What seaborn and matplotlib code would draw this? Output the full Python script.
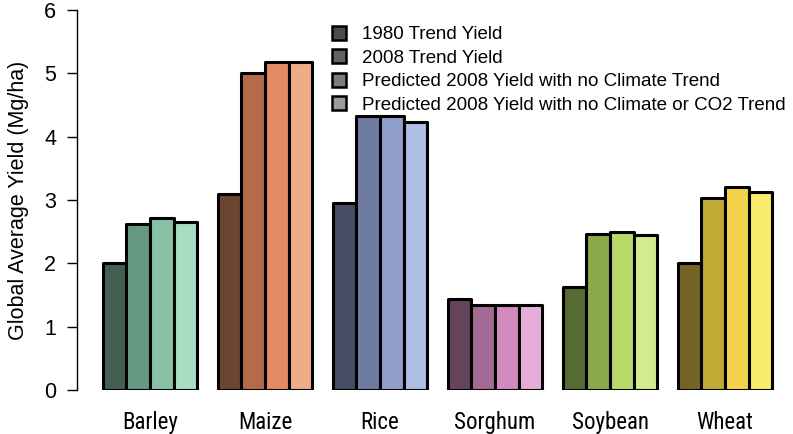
import numpy as np
import pandas as pd
import matplotlib
matplotlib.use('Agg')
import matplotlib.pyplot as plt
import seaborn as sns
from matplotlib import font_manager
from matplotlib.patches import Patch

# data
crops = ['Barley', 'Maize', 'Rice', 'Sorghum', 'Soybean', 'Wheat']
series = ['1980 Trend Yield',
          '2008 Trend Yield',
          'Predicted 2008 Yield with no Climate Trend',
          'Predicted 2008 Yield with no Climate or CO2 Trend']
yield_1980 = [2.01, 3.10, 2.95, 1.43, 1.63, 2.01]
yield_2008 = [2.62, 5.00, 4.32, 1.35, 2.46, 3.03]
yield_noclim = [2.71, 5.18, 4.32, 1.35, 2.49, 3.20]
yield_noclim_co2 = [2.65, 5.18, 4.23, 1.35, 2.45, 3.13]

# one colour family per crop, dark -> light
crop_colors = {
    'Barley':  ['#455f52', '#679882', '#88c2a5', '#a8dcc3'],
    'Maize':   ['#6c4432', '#b46b4b', '#e58b63', '#eeac88'],
    'Rice':    ['#474d63', '#6f7ca2', '#8f9fc9', '#aebde3'],
    'Sorghum': ['#65435c', '#a36a93', '#d189c0', '#e8acda'],
    'Soybean': ['#566b31', '#8ba84a', '#b6d968', '#d3eb8c'],
    'Wheat':   ['#756425', '#c0a934', '#f3d34b', '#f8ea6c'],
}
legend_grays = ['#4b4b4b', '#626262', '#7c7c7c', '#9b9b9b']

df = pd.DataFrame({
    'crop': crops * 4,
    'series': np.repeat(series, len(crops)),
    'yield': yield_1980 + yield_2008 + yield_noclim + yield_noclim_co2,
})

sns.set_style('white', rc={'text.color': 'black', 'axes.labelcolor': 'black',
                           'xtick.color': 'black', 'ytick.color': 'black'})
plt.rcParams['font.family'] = ['Liberation Sans', 'DejaVu Sans']

# narrow face for the crop names if one is installed
installed = {f.name for f in font_manager.fontManager.ttflist}
narrow = [n for n in ['Liberation Sans Narrow', 'Arial Narrow', 'Roboto Condensed']
          if n in installed]
xlab_size = 16.5 if narrow else 13.5

fig = plt.figure(figsize=(7.93, 4.34), dpi=100)
ax = fig.add_axes([77 / 793, 44 / 434, 713 / 793, 380 / 434])

sns.barplot(data=df, x='crop', y='yield', hue='series', order=crops,
            hue_order=series, width=0.82, edgecolor='black', linewidth=2.2,
            legend=False, ax=ax)

# recolour: each crop has its own palette
for j, cont in enumerate(ax.containers):
    for i, bar in enumerate(cont):
        bar.set_facecolor(crop_colors[crops[i]][j])
        bar.set_joinstyle('round')

ax.set_ylim(0, 6)
ax.set_xlim(-0.635, 5.565)
ax.set_yticks(range(7))
ax.set_xlabel('')
ax.set_ylabel('Global Average Yield (Mg/ha)', fontsize=15.5, labelpad=11)
ax.tick_params(axis='y', left=True, length=7, width=1, labelsize=15.5, pad=8)
ax.tick_params(axis='x', length=0, pad=15)
for lab in ax.get_xticklabels():
    lab.set_family(narrow + ['Liberation Sans'])
    lab.set_fontsize(xlab_size)

sns.despine(ax=ax, top=True, right=True, bottom=True)
ax.spines['left'].set_linewidth(1)
ax.spines['left'].set_color('black')

handles = [Patch(facecolor=c, edgecolor='black', linewidth=1.8) for c in legend_grays]
ax.legend(handles, series, loc='upper left', frameon=False, fontsize=13.5,
          bbox_to_anchor=(332 / 793, 1 - 26 / 434), bbox_transform=fig.transFigure,
          borderpad=0, borderaxespad=0, handlelength=0.75, handleheight=0.75,
          handletextpad=0.85, labelspacing=0.32)

fig.savefig('out.png', dpi=100)
